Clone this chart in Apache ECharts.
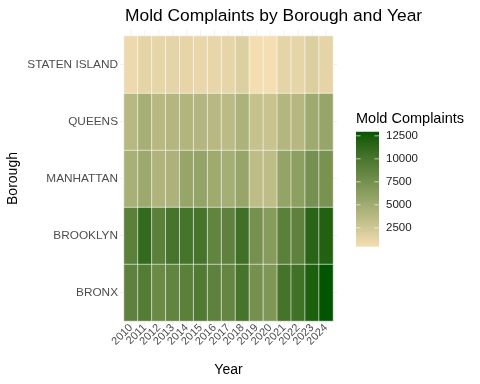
<!DOCTYPE html>
<html><head><meta charset="utf-8">
<script src="https://cdn.jsdelivr.net/npm/echarts@6/dist/echarts.min.js"></script>
<style>html,body{margin:0;padding:0;background:#fff}#c{width:480px;height:384px}</style>
</head><body><div id="c"></div>
<script>
// ---- data ----
const years = ['2010','2011','2012','2013','2014','2015','2016','2017','2018','2019','2020','2021','2022','2023','2024'];
const boroughs = ['BRONX','BROOKLYN','MANHATTAN','QUEENS','STATEN ISLAND'];
const bronx        = [8810, 9420, 8110, 8630, 8990, 9500, 8810, 8460, 10100, 7460, 6910, 10250, 10470, 12150, 12950];
const brooklyn     = [9020, 11110, 9020, 10100, 10100, 10100, 8630, 8800, 10480, 7460, 6530, 9020, 8810, 11540, 11950];
const manhattan    = [4600, 5310, 4220, 4390, 5550, 5770, 5120, 4770, 5610, 3400, 3400, 5770, 6120, 7460, 7350];
const queens       = [3800, 4700, 3770, 3990, 4090, 3990, 3770, 3590, 4390, 3000, 2850, 3990, 3890, 5150, 5550];
const statenIsland = [850, 1350, 1250, 1300, 1200, 1100, 1150, 1200, 1750, 550, 450, 1300, 1250, 1800, 1350];
const legendTicks  = [2500, 5000, 7500, 10000, 12500];

(function(){
const rows = [bronx, brooklyn, manhattan, queens, statenIsland];
const data = [];
rows.forEach((r, yi) => r.forEach((v, xi) => data.push([xi, yi, v])));
const all = data.map(d => d[2]);
const vmin = Math.min(...all), vmax = Math.max(...all);

// ---- Lab gradient (like ggplot scale_fill_gradient) ----
function hex2rgb(h){h=h.replace('#','');return [0,2,4].map(i=>parseInt(h.substr(i,2),16));}
function lin(c){c/=255;return c<=0.04045?c/12.92:Math.pow((c+0.055)/1.055,2.4);}
function delin(c){c=c<=0.0031308?12.92*c:1.055*Math.pow(c,1/2.4)-0.055;return Math.max(0,Math.min(255,Math.round(c*255)));}
const WX=0.95047,WY=1,WZ=1.08883;
function f(t){return t>0.008856?Math.cbrt(t):7.787*t+16/116;}
function finv(t){return t>0.206893?t*t*t:(t-16/116)/7.787;}
function rgb2lab(rgb){const [r,g,b]=rgb.map(lin);
  const X=0.4124*r+0.3576*g+0.1805*b,Y=0.2126*r+0.7152*g+0.0722*b,Z=0.0193*r+0.1192*g+0.9505*b;
  const fx=f(X/WX),fy=f(Y/WY),fz=f(Z/WZ);return [116*fy-16,500*(fx-fy),200*(fy-fz)];}
function lab2rgb(lab){const fy=(lab[0]+16)/116,fx=fy+lab[1]/500,fz=fy-lab[2]/200;
  const X=WX*finv(fx),Y=WY*finv(fy),Z=WZ*finv(fz);
  const r=3.2406*X-1.5372*Y-0.4986*Z,g=-0.9689*X+1.8758*Y+0.0415*Z,b=0.0557*X-0.2040*Y+1.0570*Z;
  return 'rgb('+[r,g,b].map(delin).join(',')+')';}
const LOW=rgb2lab(hex2rgb('#F5DEB3')), HIGH=rgb2lab(hex2rgb('#005600'));
const NSTOP=24, stops=[];
for(let i=0;i<=NSTOP;i++){const t=i/NSTOP;stops.push(lab2rgb(LOW.map((v,k)=>v+(HIGH[k]-v)*t)));}

// ---- chart ----
const chart = echarts.init(document.getElementById('c'), null, {renderer:'canvas'});
const FONT = 'Liberation Sans, Arial, sans-serif';
const GRID = {left:124, right:147, top:36, bottom:63};
const LEG = {x:356, y:131.7, w:23, h:115};

const option = {
  animation:false,
  backgroundColor:'#fff',
  textStyle:{fontFamily:FONT},
  title:{text:'Mold Complaints by Borough and Year', left:120, top:3,
    textStyle:{fontFamily:FONT, fontSize:17.4, fontWeight:'normal', color:'#000'}},
  grid:{left:GRID.left, right:GRID.right, top:GRID.top, bottom:GRID.bottom, containLabel:false, outerBoundsMode:'none'},
  xAxis:{type:'category', data:years, name:'Year', nameLocation:'middle', nameGap:42,
    nameTextStyle:{fontFamily:FONT, fontSize:14, color:'#000'},
    axisLine:{show:false}, axisTick:{show:false}, splitLine:{show:false},
    axisLabel:{rotate:45, fontSize:11, color:'#4d4d4d', margin:5, interval:0, fontFamily:FONT}},
  yAxis:{type:'category', data:boroughs, name:'Borough', nameLocation:'middle', nameGap:104, nameRotate:90,
    nameTextStyle:{fontFamily:FONT, fontSize:14, color:'#000'},
    axisLine:{show:false}, axisTick:{show:false}, splitLine:{show:false},
    axisLabel:{fontSize:11.8, color:'#4d4d4d', margin:6, fontFamily:FONT}},
  visualMap:{show:false, min:vmin, max:vmax, dimension:2, inRange:{color:stops}},
  series:[{type:'heatmap', data:data, z:5, itemStyle:{borderColor:'rgba(255,255,255,0.85)', borderWidth:0.7}}]
};
chart.setOption(option);

// gridlines (panel extends a little beyond tiles) and legend
const g = [];
const gTop = GRID.top - 6, gBottom = 384 - GRID.bottom + 6, gLeft = GRID.left - 4, gRight = 480 - GRID.right + 4;
years.forEach((y, i) => {
  const px = chart.convertToPixel({gridIndex:0}, [i, 0])[0];
  g.push({type:'line', z:0, shape:{x1:px, y1:gTop, x2:px, y2:gBottom}, style:{stroke:'#e6e6e6', lineWidth:0.6}});
});
boroughs.forEach((b, i) => {
  const py = chart.convertToPixel({gridIndex:0}, [0, i])[1];
  g.push({type:'line', z:0, shape:{x1:gLeft, y1:py, x2:gRight, y2:py}, style:{stroke:'#e6e6e6', lineWidth:0.6}});
});
// colorbar
const gradStops = stops.map((c, i) => ({offset:1 - i/NSTOP, color:c}));
g.push({type:'rect', z:10, shape:{x:LEG.x, y:LEG.y, width:LEG.w, height:LEG.h},
  style:{fill:new echarts.graphic.LinearGradient(0,0,0,1,gradStops)}});
g.push({type:'text', z:10, x:LEG.x, y:LEG.y - 13, style:{text:'Mold Complaints', fontFamily:FONT, fontSize:14.5, fill:'#000', verticalAlign:'middle', align:'left'}});
legendTicks.forEach(v => {
  const py = LEG.y + (vmax - v) / (vmax - vmin) * LEG.h;
  g.push({type:'line', z:11, shape:{x1:LEG.x, y1:py, x2:LEG.x + LEG.w/5, y2:py}, style:{stroke:'rgba(255,255,255,0.8)', lineWidth:0.8}});
  g.push({type:'line', z:11, shape:{x1:LEG.x + LEG.w*4/5, y1:py, x2:LEG.x + LEG.w, y2:py}, style:{stroke:'rgba(255,255,255,0.8)', lineWidth:0.8}});
  g.push({type:'text', z:11, x:LEG.x + LEG.w + 7, y:py, style:{text:String(v), fontFamily:FONT, fontSize:11.5, fill:'#1a1a1a', verticalAlign:'middle', align:'left'}});
});
chart.setOption({graphic:{elements:g}});
})();
</script>
</body></html>
